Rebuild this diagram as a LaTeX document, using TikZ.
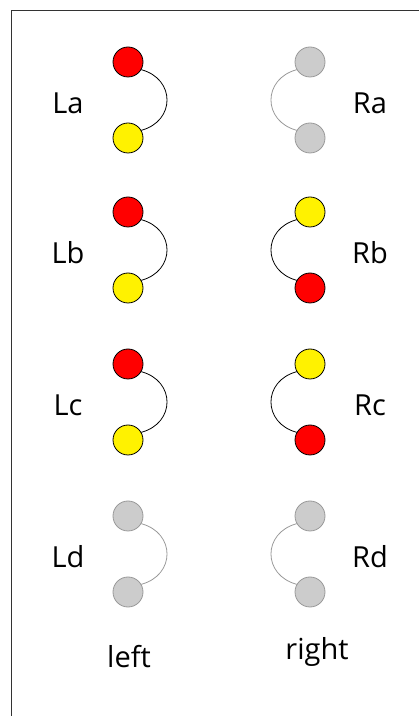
\documentclass[tikz,border=0pt]{standalone}
\usepackage{fontspec}
\setmainfont{Open Sans}
\begin{document}
\begin{tikzpicture}[x=1pt,y=1pt,line join=round,line cap=round]
	\tikzset{every node/.style={font=\fontsize{29}{32}\selectfont},
		ball/.style={circle,draw=black,line width=0.8pt,minimum size=30pt,inner sep=0pt},
		redball/.style={ball,fill=red},
		yellowball/.style={ball,fill=yellow},
		greyball/.style={ball,draw=black!40,fill=black!20},
		black link/.style={draw=black,line width=0.8pt},
		grey link/.style={draw=black!40,line width=0.8pt}}
	\useasboundingbox (0,0) rectangle (419,716);
	\draw[black!80,line width=0.8pt] (11,0)--(11,706)--(419,706);
	% one row: left pair, right pair and their labels
	\foreach \r/\y/\lt/\lb/\lk/\rt/\rb/\rk in {a/654/redball/yellowball/black/greyball/greyball/grey,
		b/504/redball/yellowball/black/yellowball/redball/black,
		c/352/redball/yellowball/black/yellowball/redball/black,
		d/200/greyball/greyball/grey/greyball/greyball/grey}
	{
		\node[\lt] (L\r1) at (128,\y) {};
		\node[\lb] (L\r2) at (128,\y-76) {};
		\node[\rt] (R\r1) at (310,\y) {};
		\node[\rb] (R\r2) at (310,\y-76) {};
		\draw[\lk\space link] (L\r1.-30) to[out=-15,in=15,looseness=1.5] (L\r2.30);
		\draw[\rk\space link] (R\r1.210) to[out=195,in=165,looseness=1.5] (R\r2.150);
		\node (L\r) at (68,\y-41) {L\r};
		\node (R\r) at (370,\y-41) {R\r};
	}
	\node (left) at (129,59) {left};
	\node (right) at (317,64) {right};
\end{tikzpicture}
\end{document}
